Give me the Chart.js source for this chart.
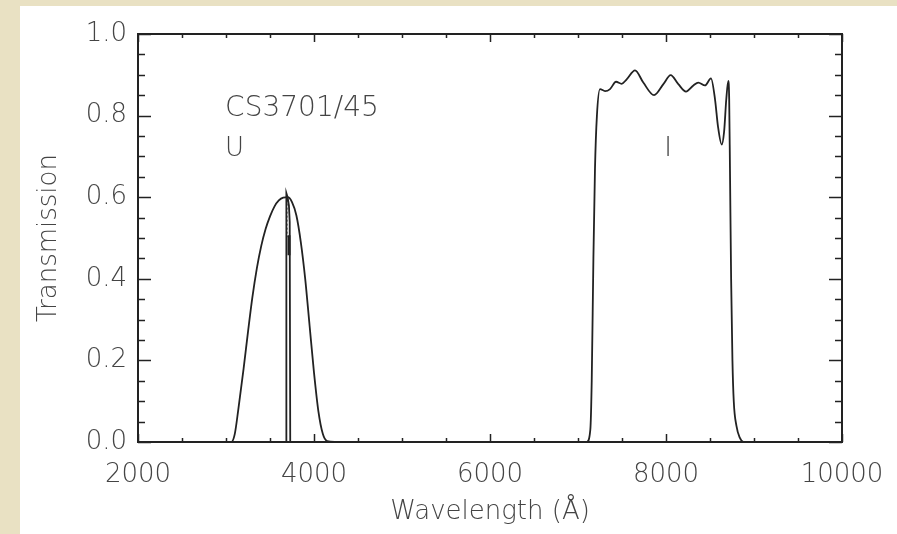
<!DOCTYPE html>
<html>
<head>
<meta charset="utf-8">
<script src="https://cdn.jsdelivr.net/npm/chart.js@4.4.1/dist/chart.umd.min.js"></script>
<style>
  html, body { margin: 0; padding: 0; }
  body { width: 897px; height: 534px; background: #e9e1c3; overflow: hidden; position: relative; }
  .panel { position: absolute; left: 20px; top: 6px; width: 877px; height: 528px; background: #fff; }
</style>
</head>
<body>
<div class="panel"><canvas id="filtros" width="877" height="528"></canvas></div>
<script>
// U filter (broad)
const uWave  = [2950, 3060, 3100, 3140, 3200, 3250, 3300, 3350, 3400, 3450, 3500, 3550, 3600, 3650, 3700, 3750, 3800, 3850, 3900, 3950, 4000, 4050, 4100, 4150, 4250];
const uTrans = [0, 0, 0.02, 0.08, 0.18, 0.27, 0.355, 0.425, 0.48, 0.522, 0.553, 0.577, 0.592, 0.599, 0.600, 0.588, 0.555, 0.49, 0.40, 0.285, 0.17, 0.075, 0.02, 0.002, 0];

// CS3701/45 narrow filter
const csWave  = [3660, 3682, 3686, 3700, 3715, 3724, 3730, 3750];
const csTrans = [0, 0, 0.61, 0.60, 0.58, 0.54, 0, 0];

// dotted centre line and short mark
const dotWave  = [3693, 3693];
const dotTrans = [0.594, 0.502];
const markWave  = [3716, 3716];
const markTrans = [0.507, 0.458];

// I filter
const iWave  = [7000, 7100, 7140, 7156, 7175, 7193, 7215, 7250, 7307, 7364, 7432, 7496, 7553, 7648, 7742, 7864, 7970, 8053, 8140, 8227, 8311, 8367, 8443, 8511, 8557, 8591, 8633, 8660, 8685, 8708, 8718, 8727, 8740, 8755, 8770, 8800, 8840, 8880, 8950];
const iTrans = [0, 0, 0.03, 0.15, 0.45, 0.67, 0.80, 0.865, 0.86, 0.865, 0.883, 0.878, 0.889, 0.911, 0.881, 0.85, 0.877, 0.899, 0.877, 0.859, 0.874, 0.881, 0.874, 0.891, 0.84, 0.773, 0.729, 0.76, 0.84, 0.885, 0.84, 0.667, 0.40, 0.20, 0.10, 0.04, 0.01, 0, 0];

const xTicks = [2000, 4000, 6000, 8000, 10000];
const yTicks = [0, 0.2, 0.4, 0.6, 0.8, 1.0];

// text inside the plot
const notaTexto = ['CS3701/45', 'U', 'I'];
const notaX     = [2990, 2990, 8023];
const notaY     = [0.80, 0.70, 0.70];
const notaTam   = [28, 26, 26];

const fuente = 'DejaVu Sans';
const gris = '#444';
const puntos = (xs, ys) => xs.map((v, i) => ({ x: v, y: ys[i] }));

const marco = {
    id: 'marco',
    afterDatasetsDraw(chart) {
        const { ctx, chartArea: a, scales: { x, y } } = chart;
        ctx.save();
        ctx.strokeStyle = '#222';
        ctx.lineWidth = 1.5;
        const raya = (x1, y1, x2, y2) => { ctx.beginPath(); ctx.moveTo(x1, y1); ctx.lineTo(x2, y2); ctx.stroke(); };
        // x ticks (bottom and top), 4 minor intervals per major
        for (let i = 0; i < xTicks.length; i++) {
            for (let k = 0; k < 4; k++) {
                if (i === xTicks.length - 1 && k > 0) break;
                const v = xTicks[i] + k * (xTicks[1] - xTicks[0]) / 4;
                const px = Math.round(x.getPixelForValue(v)) + 0.5;
                const len = k === 0 ? 8 : 4;
                raya(px, a.bottom, px, a.bottom - len);
                raya(px, a.top, px, a.top + len);
            }
        }
        // y ticks (left and right)
        for (let i = 0; i < yTicks.length; i++) {
            for (let k = 0; k < 4; k++) {
                if (i === yTicks.length - 1 && k > 0) break;
                const v = yTicks[i] + k * (yTicks[1] - yTicks[0]) / 4;
                const py = Math.round(y.getPixelForValue(v)) + 0.5;
                const len = k === 0 ? 13 : 7;
                raya(a.left, py, a.left + len, py);
                raya(a.right, py, a.right - len, py);
            }
        }
        ctx.lineWidth = 2;
        ctx.strokeRect(a.left, a.top, a.right - a.left, a.bottom - a.top);

        ctx.fillStyle = gris;
        ctx.textBaseline = 'alphabetic';
        for (let i = 0; i < notaTexto.length; i++) {
            ctx.font = '200 ' + notaTam[i] + 'px "' + fuente + '"';
            ctx.textAlign = notaTexto[i] === 'I' ? 'center' : 'left';
            ctx.fillText(notaTexto[i], x.getPixelForValue(notaX[i]), y.getPixelForValue(notaY[i]));
        }
        ctx.restore();
    }
};

const linea = { borderColor: '#222', borderWidth: 1.8, pointRadius: 0, fill: false };
const letra = { family: fuente, size: 26, weight: 200 };

new Chart(document.getElementById('filtros'), {
    type: 'line',
    data: {
        datasets: [
            { ...linea, data: puntos(uWave, uTrans), cubicInterpolationMode: 'monotone' },
            { ...linea, data: puntos(csWave, csTrans), tension: 0 },
            { ...linea, data: puntos(dotWave, dotTrans), borderWidth: 1, borderDash: [2, 2] },
            { ...linea, data: puntos(markWave, markTrans), borderWidth: 3 },
            { ...linea, data: puntos(iWave, iTrans), cubicInterpolationMode: 'monotone' }
        ]
    },
    options: {
        responsive: false,
        animation: false,
        layout: { padding: { left: 0, right: 55, top: 28, bottom: 0 } },
        scales: {
            x: {
                type: 'linear',
                min: 2000,
                max: 10000,
                afterBuildTicks: s => { s.ticks = xTicks.map(v => ({ value: v })); },
                afterFit: s => { s.height = 92; s.paddingLeft = 0; s.paddingRight = 0; },
                grid: { display: false, drawTicks: false },
                border: { display: false },
                ticks: { color: gris, font: letra, padding: 18, maxRotation: 0, callback: v => String(v) },
                title: { display: true, text: 'Wavelength (Å)', color: gris, font: letra, padding: { top: 0, bottom: 6 } }
            },
            y: {
                min: 0,
                max: 1,
                afterBuildTicks: s => { s.ticks = yTicks.map(v => ({ value: v })); },
                afterFit: s => { s.width = 118; s.paddingTop = 0; s.paddingBottom = 0; },
                grid: { display: false, drawTicks: false },
                border: { display: false },
                ticks: { color: gris, font: letra, padding: 11, callback: v => v.toFixed(1) },
                title: { display: true, text: 'Transmission', color: gris, font: letra, padding: { top: 14, bottom: 0 } }
            }
        },
        plugins: {
            legend: { display: false },
            tooltip: { enabled: false }
        }
    },
    plugins: [marco]
});
</script>
</body>
</html>
